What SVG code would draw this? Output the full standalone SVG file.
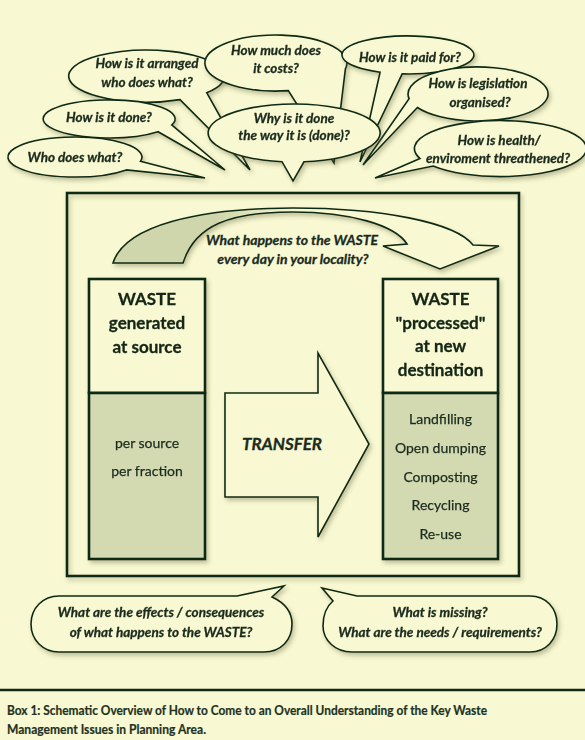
<svg xmlns="http://www.w3.org/2000/svg" width="585" height="740" viewBox="0 0 585 740">
<defs>
<filter id="sh" x="-10%" y="-10%" width="130%" height="140%">
<feDropShadow dx="2" dy="3" stdDeviation="2" flood-color="#5c5c30" flood-opacity="0.35"/>
</filter>
<linearGradient id="arcg" gradientUnits="userSpaceOnUse" x1="113" y1="0" x2="300" y2="0">
<stop offset="0" stop-color="#cfd6ab"/>
<stop offset="0.55" stop-color="#cfd6ab"/>
<stop offset="1" stop-color="#f8f8d2"/>
</linearGradient>
<style>
.bub{fill:#f8f8d2;stroke:#112a16;stroke-width:1.6;stroke-linejoin:miter}
.bx{fill:#f8f8d2;stroke:#112a16;stroke-width:2.6}
.gr{fill:#d3dab1;stroke:#112a16;stroke-width:2.6}
.q{font-family:Lato,"Open Sans",sans-serif;font-weight:bold;font-style:italic;font-size:13.5px;fill:#1b2b1e;stroke:#1b2b1e;stroke-width:0.3;text-anchor:middle}
.big{font-size:14px}
.tr{font-size:17px}
.h{font-family:Lato,"Open Sans",sans-serif;font-weight:bold;font-size:17px;fill:#142617;stroke:#142617;stroke-width:0.3;text-anchor:middle}
.l{font-family:Lato,"Open Sans",sans-serif;font-size:14px;fill:#1b2b1e;stroke:#1b2b1e;stroke-width:0.25;text-anchor:middle}
.cap{font-family:Lato,"Open Sans",sans-serif;font-weight:bold;font-size:13px;fill:#1e3323;stroke:#1e3323;stroke-width:0.2}
</style>
</defs>
<rect x="0" y="0" width="585" height="740" fill="#f8f8d2"/>

<!-- top speech bubbles -->
<g id="q-arranged" filter="url(#sh)">
<path class="bub" d="M206.7,92.7 A78,26 0 1 0 180,99.6 L250,170 Z"/>
<text class="q" x="147" y="68">How is it arranged</text>
<text class="q" x="147" y="87">who does what?</text>
</g>
<g id="q-done" filter="url(#sh)">
<path class="bub" d="M171.8,124.9 A66,19 0 1 0 158,131.7 L225,170 Z"/>
<text class="q" x="109" y="122">How is it done?</text>
</g>
<g id="q-who" filter="url(#sh)">
<path class="bub" d="M140.5,161.2 A67,20 0 1 0 126.3,169.9 L205,178 Z"/>
<text class="q" x="75" y="162">Who does what?</text>
</g>
<g id="q-costs" filter="url(#sh)">
<path class="bub" d="M345.4,68.8 A71,28 0 1 0 288.3,90.6 L334,163 Z"/>
<text class="q" x="276" y="55">How much does</text>
<text class="q" x="276" y="73">it costs?</text>
</g>
<g id="q-paid" filter="url(#sh)">
<path class="bub" d="M380.1,72.2 A66,19 0 1 1 402.2,73.9 L360,162 Z"/>
<text class="q" x="410" y="62">How is it paid for?</text>
</g>
<g id="q-legislation" filter="url(#sh)">
<path class="bub" d="M409.1,98.7 A70,27 0 1 1 417.4,107.5 L363,165 Z"/>
<text class="q" x="478" y="88">How is legislation</text>
<text class="q" x="480" y="107">organised?</text>
</g>
<g id="q-health" filter="url(#sh)">
<path class="bub" d="M420,158.5 A86,28 0 1 1 433.1,166 L375,178 Z"/>
<text class="q" x="499" y="145">How is health/</text>
<text class="q" x="498" y="163">enviroment threathened?</text>
</g>
<g id="q-why" filter="url(#sh)">
<path class="bub" d="M282,161.7 A86,29 0 1 1 304,161.8 L293,181 Z"/>
<text class="q" x="294" y="123">Why is it done</text>
<text class="q" x="294" y="140">the way it is (done)?</text>
</g>

<!-- main frame -->
<g id="frame">
<rect x="67" y="193" width="452" height="383" fill="none" stroke="#112a16" stroke-width="2.6" filter="url(#sh)"/>
</g>

<!-- connectors -->
<g id="connectors">
<path filter="url(#sh)" d="M113,263 C125,225 200,208 293,208 C380,208 455,222 473,245 L499,246 L440,269 L383,246 L407,244 C395,225 350,212 293,212 C230,212 195,225 183,263 Z" fill="url(#arcg)" stroke="#112a16" stroke-width="1.6" stroke-linejoin="miter"/>
<text class="q big" x="292" y="245">What happens to the WASTE</text>
<text class="q big" x="293" y="264">every day in your locality?</text>
<path filter="url(#sh)" d="M225,393 L318,393 L318,353 L369,444 L318,537 L318,497 L225,497 Z" fill="#f8f8d2" stroke="#112a16" stroke-width="1.6"/>
<text class="q tr" x="282" y="450">TRANSFER</text>
</g>

<!-- source box -->
<g id="source" filter="url(#sh)">
<rect class="bx" x="89" y="279" width="116" height="114"/>
<rect class="gr" x="89" y="393" width="116" height="166"/>
<text class="h" x="147" y="305">WASTE</text>
<text class="h" x="147" y="329">generated</text>
<text class="h" x="147" y="353">at source</text>
<text class="l" x="147" y="448">per source</text>
<text class="l" x="147" y="476">per fraction</text>
</g>

<!-- destination box -->
<g id="destination" filter="url(#sh)">
<rect class="bx" x="383" y="279" width="115" height="114"/>
<rect class="gr" x="383" y="393" width="115" height="166"/>
<text class="h" x="440.5" y="305">WASTE</text>
<text class="h" x="440.5" y="329">"processed"</text>
<text class="h" x="440.5" y="352">at new</text>
<text class="h" x="440.5" y="376">destination</text>
<text class="l" x="440.5" y="424">Landfilling</text>
<text class="l" x="440.5" y="453">Open dumping</text>
<text class="l" x="440.5" y="482">Composting</text>
<text class="l" x="440.5" y="510">Recycling</text>
<text class="l" x="440.5" y="539">Re-use</text>
</g>

<!-- bottom bubbles -->
<g id="q-effects" filter="url(#sh)">
<path class="bub" d="M59,596 L237,596 L284,586 L272,597 C285,603 292,612 292,624 C292,640 281,652 264,652 L59,652 C43,652 31,640 31,624 C31,608 43,596 59,596 Z"/>
<text class="q" x="161" y="617">What are the effects / consequences</text>
<text class="q" x="161" y="637">of what happens to the WASTE?</text>
</g>
<g id="q-missing" filter="url(#sh)">
<path class="bub" d="M322,588 L357,596 L530,596 C546,596 557,608 557,624 C557,640 546,652 530,652 L352,652 C335,652 323,640 323,626 C323,614 327,606 333,601 Z"/>
<text class="q" x="440" y="617">What is missing?</text>
<text class="q" x="440" y="637">What are the needs / requirements?</text>
</g>

<!-- caption -->
<g id="caption">
<line x1="0" y1="690" x2="585" y2="690" stroke="#112a16" stroke-width="2.6"/>
<text class="cap" x="7" y="715" textLength="480" lengthAdjust="spacingAndGlyphs">Box 1: Schematic Overview of How to Come to an Overall Understanding of the Key Waste</text>
<text class="cap" x="7" y="734" textLength="199" lengthAdjust="spacingAndGlyphs">Management Issues in Planning Area.</text>
</g>
</svg>
